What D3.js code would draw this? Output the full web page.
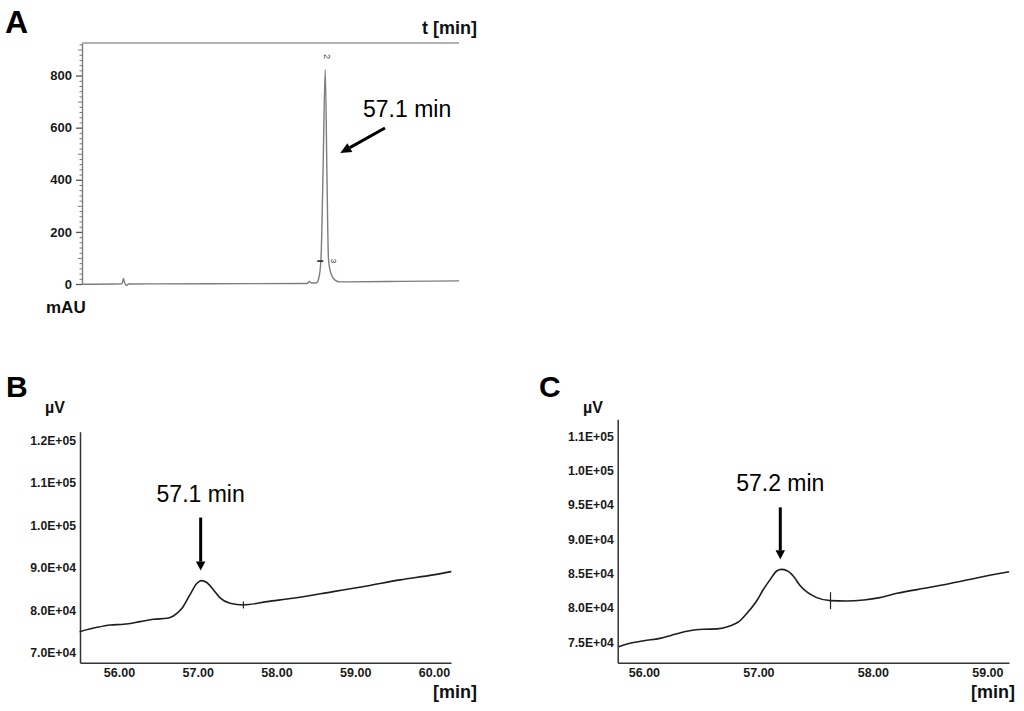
<!DOCTYPE html>
<html lang="en">

<head>
    <meta charset="UTF-8" />
    <title>HPLC chromatograms</title>
    <script src="https://d3js.org/d3.v7.min.js"></script>
    <style>
        body {
            margin: 0;
            background: #fff;
        }

        svg {
            display: block;
            font-family: "Liberation Sans", Arial, sans-serif;
        }

        .panel-letter {
            font-weight: bold;
            font-size: 30px;
            fill: #000;
        }

        .unit {
            font-weight: bold;
            font-size: 17px;
            fill: #111;
        }

        .axis text {
            font-family: "Liberation Sans", Arial, sans-serif;
            font-weight: bold;
            fill: #1a1a1a;
        }

        .note {
            font-size: 23px;
            fill: #000;
        }
    </style>
</head>

<body>
    <svg width="1024" height="711"></svg>

    <script>
        // ---- panel A (UV trace, mAU) ----
        const timeA = [0, 9.4, 9.75, 9.95, 10.45, 10.9, 30, 52.8, 53.4, 53.9, 55.08, 55.62, 56.1, 56.57, 57.1,
            57.5, 57.86, 58.45, 59.4, 60.6, 75, 88.5];
        const signalA = [-1, 1, 21, 8, -6, 0, 1, 2, 10, 4, 5, 25, 95, 420, 823,
            420, 95, 40, 15, 8, 10, 12];
        const yTicksA = [0, 200, 400, 600, 800];

        // ---- panel B (µV) ----
        const timeB = [55.50, 55.72, 55.89, 56.06, 56.27, 56.44, 56.61, 56.69, 56.80, 56.90, 56.99, 57.05,
            57.11, 57.20, 57.28, 57.41, 57.58, 57.88, 58.21, 58.72, 59.15, 59.57, 59.99, 60.22];
        const signalB = [74960, 75980, 76530, 76690, 77320, 77870, 78110, 78660, 80460, 83610, 86360, 86990,
            86600, 84790, 82980, 81640, 81250, 82040, 82820, 84390, 85730, 87150, 88330, 89110];
        const yTicksB = [70000, 80000, 90000, 100000, 110000, 120000];
        const yLabelsB = ["7.0E+04", "8.0E+04", "9.0E+04", "1.0E+05", "1.1E+05", "1.2E+05"];
        const xTicksB = [56, 57, 58, 59, 60];
        const xLabelsB = ["56.00", "57.00", "58.00", "59.00", "60.00"];

        // ---- panel C (µV) ----
        const timeC = [55.78, 55.88, 56.00, 56.14, 56.23, 56.32, 56.40, 56.52, 56.64, 56.75, 56.83, 56.90,
            56.99, 57.04, 57.10, 57.16, 57.20, 57.25, 57.31, 57.36, 57.42, 57.51, 57.63, 57.77, 57.92,
            58.06, 58.21, 58.50, 58.79, 59.08, 59.19];
        const signalC = [74370, 74860, 75240, 75580, 75970, 76410, 76700, 76900, 76960, 77380, 78010, 79230,
            81170, 82620, 84080, 85390, 85630, 85440, 84560, 83350, 82380, 81510, 81070, 81020, 81170,
            81510, 82140, 83010, 83980, 84950, 85290];
        const yTicksC = [75000, 80000, 85000, 90000, 95000, 100000, 105000];
        const yLabelsC = ["7.5E+04", "8.0E+04", "8.5E+04", "9.0E+04", "9.5E+04", "1.0E+05", "1.1E+05"];
        const xTicksC = [56, 57, 58, 59];
        const xLabelsC = ["56.00", "57.00", "58.00", "59.00"];

        // peak annotations and integration end marks
        const peakTimes = [57.1, 57.1, 57.2];
        const peakLabels = ["57.1 min", "57.1 min", "57.2 min"];
        const integrationEnd = [null, 57.58, 57.63];

        const svg = d3.select("svg");

        function drawArrow(g, x1, y1, x2, y2, head, width, color) {
            const ang = Math.atan2(y2 - y1, x2 - x1);
            const bx = x2 - head * Math.cos(ang), by = y2 - head * Math.sin(ang);
            g.append("line")
                .attr("x1", x1).attr("y1", y1).attr("x2", bx).attr("y2", by)
                .attr("stroke", color).attr("stroke-width", 3);
            const px = Math.sin(ang) * width / 2, py = -Math.cos(ang) * width / 2;
            g.append("polygon")
                .attr("points", [[x2, y2], [bx + px, by + py], [bx - px, by - py]].map(p => p.join(",")).join(" "))
                .attr("fill", color);
        }

        // highest point of the trace near the labelled retention time
        function peakOf(times, values, t0) {
            let best = -1;
            times.forEach((t, i) => {
                if (Math.abs(t - t0) <= 0.3 && (best < 0 || values[i] > values[best])) best = i;
            });
            return { t: times[best], v: values[best] };
        }

        // ================= Panel A =================
        {
            const x = d3.scaleLinear().domain([0, 88.5]).range([82, 459]);
            const y = d3.scaleLinear().domain([0, 925]).range([284, 43]);
            const g = svg.append("g");

            // minor ticks
            g.append("g")
                .attr("transform", "translate(82,0)")
                .call(d3.axisLeft(y).tickValues(d3.range(20, 925, 20).filter(d => d % 100 !== 0))
                    .tickSize(2.5).tickFormat("").tickSizeOuter(0))
                .call(s => s.select(".domain").remove())
                .selectAll("line").attr("stroke", "#777");
            g.append("g")
                .attr("transform", "translate(82,0)")
                .call(d3.axisLeft(y).tickValues(d3.range(100, 925, 200))
                    .tickSize(4).tickFormat("").tickSizeOuter(0))
                .call(s => s.select(".domain").remove())
                .selectAll("line").attr("stroke", "#777");

            const ay = g.append("g")
                .attr("class", "axis")
                .attr("transform", "translate(82,0)")
                .call(d3.axisLeft(y).tickValues(yTicksA).tickSize(6).tickPadding(4).tickSizeOuter(0));
            ay.select(".domain").attr("stroke", "#777").attr("stroke-width", 1.3);
            ay.selectAll(".tick line").attr("stroke", "#555").attr("stroke-width", 1.3);
            ay.selectAll("text").attr("font-size", 13);

            // top frame line
            g.append("line")
                .attr("x1", x.range()[0]).attr("x2", x.range()[1])
                .attr("y1", y.range()[1]).attr("y2", y.range()[1])
                .attr("stroke", "#999").attr("stroke-width", 1.3);

            const line = d3.line().x((d, i) => x(timeA[i])).y(d => y(d)).curve(d3.curveMonotoneX);
            g.append("path")
                .datum(signalA)
                .attr("d", line)
                .attr("fill", "none")
                .attr("stroke", "#7d7d7d")
                .attr("stroke-width", 1.4);

            const pk = peakOf(timeA, signalA, peakTimes[0]);
            // peak number and integration marks
            g.append("text")
                .attr("transform", `translate(${x(pk.t) - 1},${y(pk.v) - 13}) rotate(90)`)
                .attr("text-anchor", "middle")
                .attr("font-size", 9)
                .attr("fill", "#444")
                .text("2");
            g.append("line")
                .attr("x1", x(pk.t) - 8).attr("x2", x(pk.t) - 2)
                .attr("y1", y(88)).attr("y2", y(88))
                .attr("stroke", "#222").attr("stroke-width", 1.6);
            g.append("text")
                .attr("transform", `translate(${x(pk.t) + 6},${y(88)}) rotate(90)`)
                .attr("text-anchor", "middle")
                .attr("font-size", 8)
                .attr("fill", "#222")
                .text("3");

            drawArrow(g, 385, 128, x(pk.t) + 15, y(503), 11, 10, "#000");
            g.append("text").attr("class", "note")
                .attr("x", 363).attr("y", 116.5)
                .text(peakLabels[0]);

            svg.append("text").attr("class", "panel-letter").attr("x", 5).attr("y", 33)
                .style("font-size", "32px").text("A");
            svg.append("text").attr("class", "unit").attr("x", 477).attr("y", 34)
                .attr("text-anchor", "end").style("font-size", "18px").text("t [min]");
            svg.append("text").attr("class", "unit").attr("x", 46).attr("y", 313).text("mAU");
        }

        // ================= Panels B and C =================
        function drawPanel(opt) {
            const x = d3.scaleLinear().domain(opt.xDomain).range(opt.xRange);
            const y = d3.scaleLinear().domain(opt.yDomain).range(opt.yRange);
            const g = svg.append("g");
            const x0 = opt.xRange[0], y0 = opt.yRange[0];

            const ax = g.append("g")
                .attr("class", "axis")
                .attr("transform", `translate(0,${y0})`)
                .call(d3.axisBottom(x).tickValues(opt.xTicks).tickFormat((d, i) => opt.xLabels[i])
                    .tickSize(0).tickPadding(5).tickSizeOuter(0));
            ax.selectAll("text").attr("font-size", 12.5);

            const ay = g.append("g")
                .attr("class", "axis")
                .attr("transform", `translate(${x0},0)`)
                .call(d3.axisLeft(y).tickValues(opt.yTicks).tickFormat((d, i) => opt.yLabels[i])
                    .tickSize(0).tickPadding(4).tickSizeOuter(0));
            ay.selectAll("text").attr("font-size", 12.2);

            g.selectAll(".domain").attr("stroke", "#333").attr("stroke-width", 1.5);

            const line = d3.line().x((d, i) => x(opt.times[i])).y(d => y(d)).curve(d3.curveMonotoneX);
            g.append("path")
                .datum(opt.values)
                .attr("d", line)
                .attr("fill", "none")
                .attr("stroke", "#1e1e1e")
                .attr("stroke-width", 1.6);

            // integration end mark
            const te = opt.endMark;
            const ve = opt.values[d3.minIndex(opt.times, t => Math.abs(t - te))];
            g.append("line")
                .attr("x1", x(te)).attr("x2", x(te))
                .attr("y1", y(ve) - opt.markH).attr("y2", y(ve) + opt.markH)
                .attr("stroke", "#222").attr("stroke-width", 1.2);

            const pk = peakOf(opt.times, opt.values, opt.peakT);
            const px = x(pk.t) - 1;
            drawArrow(g, px, y(pk.v) - opt.arrowLen - 10, px, y(pk.v) - 10, 9, 9.5, "#000");
            g.append("text").attr("class", "note")
                .attr("x", px).attr("y", y(pk.v) - opt.arrowLen - 26)
                .attr("text-anchor", "middle")
                .text(opt.label);

            svg.append("text").attr("class", "panel-letter")
                .attr("x", opt.letterX).attr("y", 397).text(opt.letter);
            svg.append("text").attr("class", "unit")
                .attr("x", opt.unitX).attr("y", 413).style("font-size", "16px").text("µV");
            svg.append("text").attr("class", "unit")
                .attr("x", opt.minX).attr("y", 698).attr("text-anchor", "end")
                .style("font-size", "18px").text("[min]");
        }

        drawPanel({
            times: timeB, values: signalB,
            xDomain: [55.505, 60.216], xRange: [80, 451],
            yDomain: [67650, 122050], yRange: [662.7, 431.7],
            xTicks: xTicksB, xLabels: xLabelsB, yTicks: yTicksB, yLabels: yLabelsB,
            endMark: integrationEnd[1], markH: 3.5,
            peakT: peakTimes[1], label: peakLabels[1], arrowLen: 53,
            letter: "B", letterX: 6, unitX: 45, minX: 477
        });

        drawPanel({
            times: timeC, values: signalC,
            xDomain: [55.771, 59.189], xRange: [617.7, 1009],
            yDomain: [72035, 107481], yRange: [662.7, 419.3],
            xTicks: xTicksC, xLabels: xLabelsC, yTicks: yTicksC, yLabels: yLabelsC,
            endMark: integrationEnd[2], markH: 8.5,
            peakT: peakTimes[2], label: peakLabels[2], arrowLen: 52,
            letter: "C", letterX: 539, unitX: 583, minX: 1015
        });
    </script>
</body>

</html>
